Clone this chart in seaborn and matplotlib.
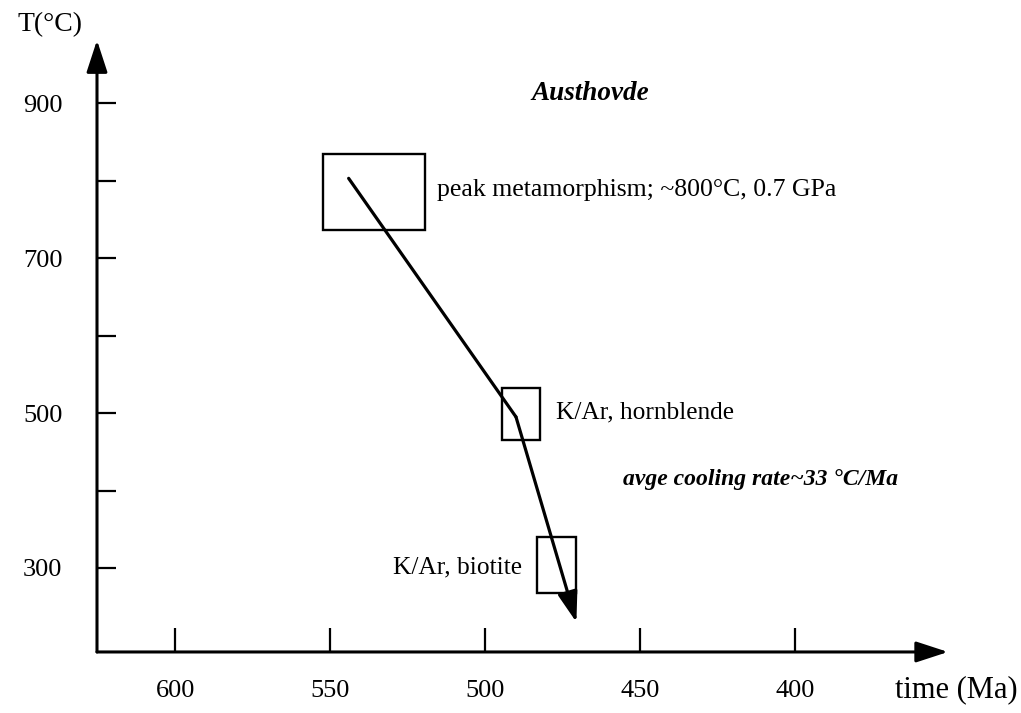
import pandas as pd
import seaborn as sns
import matplotlib.pyplot as plt
from matplotlib.patches import Rectangle

sns.set_style('white')
plt.rcParams['font.family'] = ['Liberation Serif', 'DejaVu Serif']
plt.rcParams['text.color'] = 'black'
plt.rcParams['xtick.color'] = 'black'
plt.rcParams['ytick.color'] = 'black'

# cooling path (time in Ma, temperature in °C)
path_time = [544, 490, 470.5]
path_temp = [803, 495, 230]

# age / temperature boxes
box_names = ['peak', 'hornblende', 'biotite']
box_time = [(552.3, 519.4), (494.5, 482.3), (483.2, 470.6)]
box_temp = [(736, 835), (465, 532), (268, 340)]

x_ticks = [600, 550, 500, 450, 400]
y_ticks = [300, 400, 500, 600, 700, 800, 900]
y_labels = ['300', '', '500', '', '700', '', '900']

df = pd.DataFrame({'time': path_time[:2], 'temp': path_temp[:2]})

fig = plt.figure(figsize=(10.21, 7.13), dpi=100)
ax = fig.add_axes([0.095, 0.0856, 0.8335, 0.858])

head = '-|>,head_length=0.49,head_width=0.16'

# path: first segment + final segment with arrow head
sns.lineplot(data=df, x='time', y='temp', sort=False, color='black', lw=2.3, ax=ax)
ax.annotate('', xy=(path_time[2], path_temp[2]), xytext=(path_time[1], path_temp[1]),
            arrowprops=dict(arrowstyle=head, color='black', lw=2.3, mutation_scale=38,
                            shrinkA=0, shrinkB=0))

for (t0, t1), (y0, y1) in zip(box_time, box_temp):
    ax.add_patch(Rectangle((t0, y0), t1 - t0, y1 - y0, fill=False, ec='black', lw=1.7))

ax.set_xlim(625.2, 350.6)
ax.set_ylim(191.6, 981.3)
ax.set_xticks(x_ticks)
ax.set_yticks(y_ticks)
ax.set_yticklabels(y_labels)
ax.set_xlabel('')
ax.set_ylabel('')
ax.tick_params(direction='in', width=1.6, labelsize=19, color='black',
               labelcolor='black', bottom=True, left=True)
ax.tick_params(axis='x', pad=20, length=17)
ax.tick_params(axis='y', pad=25, length=14)

for s in ax.spines.values():
    s.set_visible(False)

# axis arrows
ax.annotate('', xy=(1, 0), xytext=(0, 0), xycoords='axes fraction',
            arrowprops=dict(arrowstyle=head, color='black', lw=2.2, mutation_scale=40,
                            shrinkA=0, shrinkB=0))
ax.annotate('', xy=(0, 1), xytext=(0, 0), xycoords='axes fraction',
            arrowprops=dict(arrowstyle=head, color='black', lw=2.2, mutation_scale=40,
                            shrinkA=0, shrinkB=0))

ax.text(466, 912, 'Austhovde', fontsize=19.5, fontweight='bold', fontstyle='italic',
        ha='center', va='center')
ax.text(515.5, 788, 'peak metamorphism; ~800°C, 0.7 GPa', fontsize=18.5, va='center')
ax.text(477, 501, 'K/Ar, hornblende', fontsize=18.3, va='center')
ax.text(455.5, 414, 'avge cooling rate~33 °C/Ma', fontsize=17, fontweight='bold',
        fontstyle='italic', va='center')
ax.text(488, 301, 'K/Ar, biotite', fontsize=18.3, va='center', ha='right')

fig.text(0.049, 0.965, 'T(°C)', fontsize=20, ha='center', va='center')
fig.text(0.997, 0.032, 'time (Ma)', fontsize=22, ha='right', va='center')

plt.savefig('out.png', dpi=100)
